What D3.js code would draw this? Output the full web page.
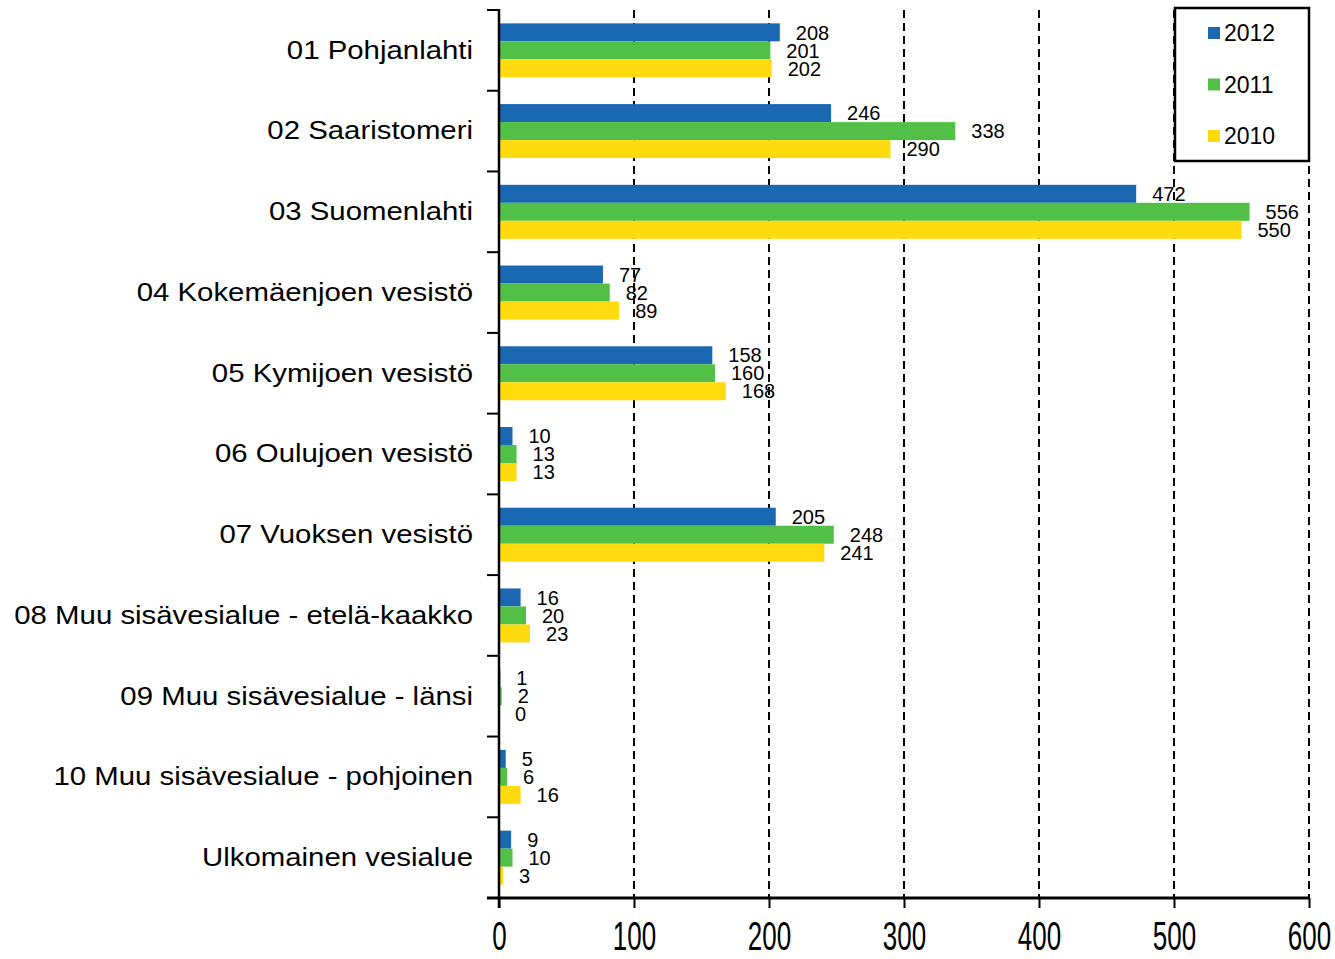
<!DOCTYPE html>
<html>
<head>
<meta charset="utf-8">
<script src="https://cdn.jsdelivr.net/npm/d3@7"></script>
<style>
  body { margin: 0; background: #fff; }
  svg text { font-family: Arial, "Liberation Sans", sans-serif; fill: #000; }
</style>
</head>
<body>
<div id="main"></div>
<script>
var categories = ['01 Pohjanlahti', '02 Saaristomeri', '03 Suomenlahti', '04 Kokemäenjoen vesistö',
  '05 Kymijoen vesistö', '06 Oulujoen vesistö', '07 Vuoksen vesistö', '08 Muu sisävesialue - etelä-kaakko',
  '09 Muu sisävesialue - länsi', '10 Muu sisävesialue - pohjoinen', 'Ulkomainen vesialue'];

var years = ['2012', '2011', '2010'];

var values_2012 = [208, 246, 472, 77, 158, 10, 205, 16, 1, 5, 9];
var values_2011 = [201, 338, 556, 82, 160, 13, 248, 20, 2, 6, 10];
var values_2010 = [202, 290, 550, 89, 168, 13, 241, 23, 0, 16, 3];

var x_ticks = [0, 100, 200, 300, 400, 500, 600];

var colors = d3.scaleOrdinal().domain(years).range(['#1a68b1', '#52c046', '#ffda0f']);

function create_chart() {

  var width = 1335;
  var height = 959;

  var series = {'2012': values_2012, '2011': values_2011, '2010': values_2010};

  var svg = d3.select('#main').append('svg').attr('width', width).attr('height', height);

  var x = d3.scaleLinear().domain([0, 600]).range([499, 1309]);

  var y = d3.scaleBand().domain(categories).range([10, 898]);

  var yInner = d3.scaleBand().domain(years).range([0, y.bandwidth()]).paddingOuter(0.742);

  // dashed gridlines
  svg.selectAll('.grid')
    .data(x_ticks.slice(1))
    .enter()
    .append('line')
    .attr('x1', function (d) { return x(d) })
    .attr('x2', function (d) { return x(d) })
    .attr('y1', 10)
    .attr('y2', 898)
    .attr('stroke', '#000')
    .attr('stroke-width', 2)
    .attr('stroke-dasharray', '8,5');

  // bars
  var groups = svg.selectAll('.cat')
    .data(categories)
    .enter()
    .append('g')
    .attr('transform', function (d) { return 'translate(0,' + y(d) + ')' });

  groups.selectAll('rect')
    .data(function (d, i) {
      return years.map(function (yr) { return {year: yr, value: series[yr][i]} })
    })
    .enter()
    .append('rect')
    .attr('x', x(0))
    .attr('y', function (d) { return yInner(d.year) })
    .attr('height', yInner.bandwidth())
    .attr('width', function (d) { return x(d.value) - x(0) })
    .attr('fill', function (d) { return colors(d.year) });

  groups.selectAll('.val')
    .data(function (d, i) {
      return years.map(function (yr) { return {year: yr, value: series[yr][i]} })
    })
    .enter()
    .append('text')
    .attr('x', function (d) { return x(d.value) + 16 })
    .attr('y', function (d) { return yInner(d.year) + yInner.bandwidth() / 2 })
    .attr('dy', '0.36em')
    .style('font-size', '20px')
    .text(function (d) { return d.value });

  // left axis with category labels
  var yAxis = svg.append('g')
    .attr('transform', 'translate(' + x(0) + ',0)')
    .call(d3.axisLeft(y).tickSize(0).tickPadding(23));
  yAxis.select('.domain').remove();
  yAxis.selectAll('text')
    .style('font-size', '26px')
    .style('font-family', 'Arial, "Liberation Sans", sans-serif')
    .attr('transform', 'scale(1.13,1)');

  var bounds = categories.map(function (d) { return y(d) }).concat([y.range()[1]]);
  svg.selectAll('.ytick')
    .data(bounds)
    .enter()
    .append('line')
    .attr('x1', x(0) - 12)
    .attr('x2', x(0))
    .attr('y1', function (d) { return d })
    .attr('y2', function (d) { return d })
    .attr('stroke', '#000')
    .attr('stroke-width', 2);

  svg.append('line')
    .attr('x1', x(0)).attr('x2', x(0))
    .attr('y1', 9).attr('y2', 908)
    .attr('stroke', '#000').attr('stroke-width', 2.5);

  // bottom axis
  var xAxis = svg.append('g')
    .attr('transform', 'translate(0,898)')
    .call(d3.axisBottom(x).tickValues(x_ticks).tickSize(10).tickSizeOuter(0).tickPadding(14));
  xAxis.select('.domain').remove();
  xAxis.selectAll('line').attr('stroke-width', 2);
  xAxis.selectAll('text')
    .style('font-size', '40px')
    .style('font-family', 'Arial, "Liberation Sans", sans-serif')
    .attr('transform', 'scale(0.65,1)');

  svg.append('line')
    .attr('x1', x(0) - 12).attr('x2', x(600))
    .attr('y1', 898).attr('y2', 898)
    .attr('stroke', '#000').attr('stroke-width', 3);

  // legend
  var legend = svg.append('g');
  legend.append('rect')
    .attr('x', 1175).attr('y', 8)
    .attr('width', 134).attr('height', 153)
    .attr('fill', '#fff')
    .attr('stroke', '#000')
    .attr('stroke-width', 2.5);

  var ly = d3.scalePoint().domain(years).range([33, 136]);

  legend.selectAll('.lsq')
    .data(years)
    .enter()
    .append('rect')
    .attr('x', 1208)
    .attr('y', function (d) { return ly(d) - 6 })
    .attr('width', 12)
    .attr('height', 12)
    .attr('fill', function (d) { return colors(d) });

  legend.selectAll('.ltxt')
    .data(years)
    .enter()
    .append('text')
    .attr('x', 1224)
    .attr('y', function (d) { return ly(d) })
    .attr('dy', '0.36em')
    .style('font-size', '23px')
    .text(function (d) { return d });
}

create_chart();
</script>
</body>
</html>
